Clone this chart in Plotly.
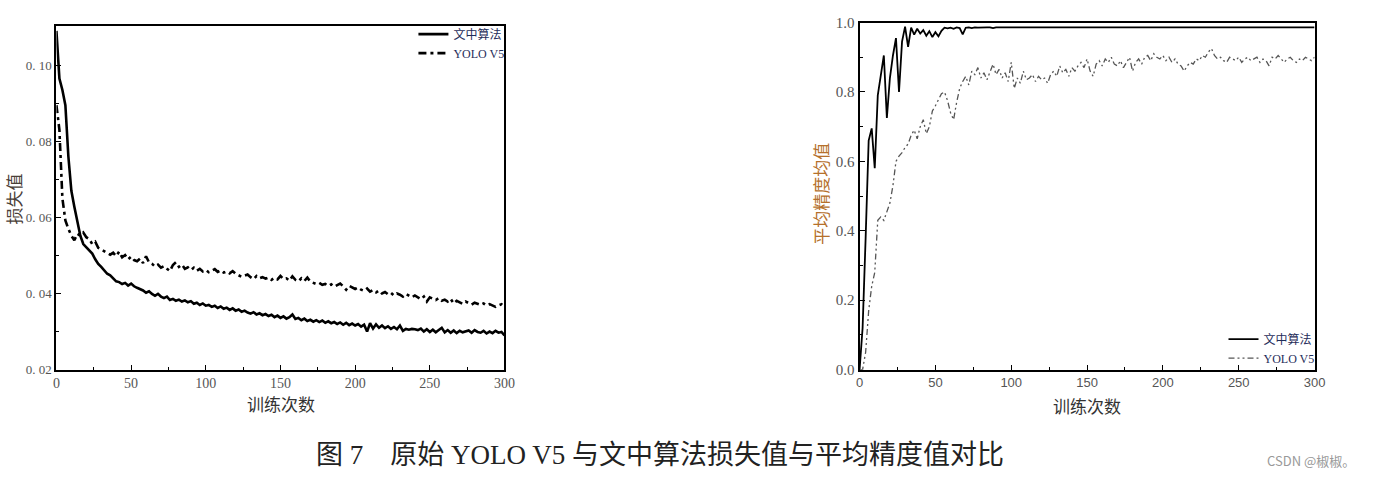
import plotly.graph_objects as go

# ---------------- data ----------------
epochs = list(range(0, 301, 2))

loss_ours = [
    0.1090, 0.0965, 0.0935, 0.0895, 0.0760, 0.0670, 0.0628, 0.0592, 0.0552, 0.0530,
    0.0522, 0.0515, 0.0505, 0.0490, 0.0478, 0.0470, 0.0462, 0.0452, 0.0448, 0.0440,
    0.0432, 0.0430, 0.0425, 0.0428, 0.0421, 0.0426, 0.0419, 0.0415, 0.0412, 0.0408,
    0.0402, 0.0406, 0.0399, 0.0394, 0.0399, 0.0392, 0.0388, 0.0392, 0.0383, 0.0386,
    0.0381, 0.0384, 0.0379, 0.0382, 0.0377, 0.0380, 0.0373, 0.0376, 0.0370, 0.0374,
    0.0368, 0.0370, 0.0365, 0.0368, 0.0362, 0.0366, 0.0360, 0.0363, 0.0357, 0.0361,
    0.0355, 0.0358, 0.0352, 0.0355, 0.0350, 0.0347, 0.0351, 0.0345, 0.0348, 0.0343,
    0.0346, 0.0341, 0.0344, 0.0338, 0.0342, 0.0336, 0.0340, 0.0334, 0.0338, 0.0345,
    0.0333, 0.0336, 0.0330, 0.0334, 0.0328, 0.0331, 0.0326, 0.0330, 0.0325, 0.0329,
    0.0323, 0.0327, 0.0322, 0.0325, 0.0320, 0.0324, 0.0318, 0.0323, 0.0317, 0.0321,
    0.0316, 0.0320, 0.0313, 0.0318, 0.0300, 0.0322, 0.0308, 0.0319, 0.0310, 0.0316,
    0.0309, 0.0314, 0.0307, 0.0312, 0.0306, 0.0316, 0.0302, 0.0307, 0.0305, 0.0307,
    0.0306, 0.0304, 0.0308, 0.0300, 0.0306, 0.0299, 0.0305, 0.0298, 0.0304, 0.0310,
    0.0298, 0.0304, 0.0297, 0.0303, 0.0296, 0.0302, 0.0298, 0.0301, 0.0303, 0.0297,
    0.0304, 0.0299, 0.0297, 0.0302, 0.0295, 0.0300, 0.0296, 0.0302, 0.0297, 0.0299,
    0.0290,
]

loss_yolo = [
    0.0895, 0.0830, 0.0650, 0.0592, 0.0570, 0.0552, 0.0540, 0.0557, 0.0552, 0.0560,
    0.0548, 0.0543, 0.0530, 0.0536, 0.0520, 0.0515, 0.0512, 0.0505, 0.0502, 0.0507,
    0.0498, 0.0510, 0.0495, 0.0501, 0.0490, 0.0497, 0.0488, 0.0485, 0.0492, 0.0480,
    0.0498, 0.0482, 0.0478, 0.0471, 0.0476, 0.0468, 0.0472, 0.0465, 0.0459, 0.0475,
    0.0482, 0.0470, 0.0476, 0.0465, 0.0469, 0.0462, 0.0468, 0.0460, 0.0465, 0.0458,
    0.0462, 0.0456, 0.0460, 0.0464, 0.0457, 0.0461, 0.0455, 0.0458, 0.0453, 0.0459,
    0.0452, 0.0448, 0.0444, 0.0447, 0.0450, 0.0443, 0.0438, 0.0446, 0.0440, 0.0443,
    0.0439, 0.0442, 0.0436, 0.0441, 0.0437, 0.0446, 0.0438, 0.0440, 0.0434, 0.0445,
    0.0436, 0.0432, 0.0440, 0.0433, 0.0442, 0.0431, 0.0427, 0.0425, 0.0428, 0.0423,
    0.0425, 0.0420, 0.0424, 0.0418, 0.0422, 0.0426, 0.0419, 0.0410, 0.0420, 0.0415,
    0.0412, 0.0416, 0.0410, 0.0407, 0.0413, 0.0405, 0.0409, 0.0403, 0.0408, 0.0400,
    0.0404, 0.0398, 0.0402, 0.0395, 0.0400, 0.0397, 0.0392, 0.0399, 0.0394, 0.0390,
    0.0395, 0.0389, 0.0385, 0.0392, 0.0379, 0.0390, 0.0386, 0.0383, 0.0388, 0.0381,
    0.0384, 0.0379, 0.0386, 0.0374, 0.0381, 0.0378, 0.0373, 0.0379, 0.0375, 0.0371,
    0.0376, 0.0372, 0.0370, 0.0374, 0.0369, 0.0372, 0.0368, 0.0365, 0.0369, 0.0372,
    0.0362,
]

map_ours = [
    0.000, 0.120, 0.380, 0.660, 0.695, 0.580, 0.790, 0.845, 0.905, 0.725,
    0.840, 0.905, 0.955, 0.800, 0.945, 0.988, 0.930, 0.985, 0.965, 0.982,
    0.968, 0.978, 0.962, 0.975, 0.958, 0.972, 0.960, 0.976, 0.985, 0.983,
    0.985, 0.982, 0.986, 0.984, 0.966, 0.985, 0.986, 0.984, 0.986, 0.985,
    0.986, 0.985, 0.986, 0.986, 0.984, 0.986, 0.986, 0.985, 0.986, 0.986,
    0.986, 0.986, 0.985, 0.986, 0.986, 0.986, 0.985, 0.986, 0.986, 0.986,
    0.986, 0.985, 0.986, 0.986, 0.986, 0.986, 0.985, 0.986, 0.986, 0.986,
    0.986, 0.986, 0.986, 0.985, 0.986, 0.986, 0.986, 0.986, 0.985, 0.986,
    0.986, 0.986, 0.986, 0.986, 0.985, 0.986, 0.986, 0.986, 0.986, 0.986,
    0.986, 0.985, 0.986, 0.986, 0.986, 0.986, 0.986, 0.985, 0.986, 0.986,
    0.986, 0.986, 0.986, 0.986, 0.986, 0.985, 0.986, 0.986, 0.986, 0.986,
    0.986, 0.986, 0.985, 0.986, 0.986, 0.986, 0.986, 0.986, 0.986, 0.986,
    0.986, 0.986, 0.986, 0.986, 0.986, 0.986, 0.986, 0.986, 0.986, 0.986,
    0.986, 0.986, 0.986, 0.986, 0.986, 0.986, 0.986, 0.986, 0.986, 0.986,
    0.986, 0.986, 0.986, 0.986, 0.986, 0.986, 0.986, 0.986, 0.986, 0.986,
    0.986,
]

map_yolo = [
    0.000, 0.000, 0.050, 0.170, 0.240, 0.280, 0.430, 0.440, 0.430, 0.455,
    0.480, 0.530, 0.600, 0.615, 0.625, 0.640, 0.650, 0.675, 0.690, 0.665,
    0.700, 0.720, 0.680, 0.700, 0.745, 0.760, 0.780, 0.795, 0.800, 0.775,
    0.740, 0.720, 0.770, 0.810, 0.830, 0.845, 0.820, 0.860, 0.850, 0.870,
    0.840, 0.855, 0.835, 0.860, 0.880, 0.850, 0.865, 0.840, 0.855, 0.830,
    0.885, 0.810, 0.840, 0.825, 0.860, 0.835, 0.840, 0.850, 0.830, 0.845,
    0.835, 0.840, 0.825, 0.850, 0.860, 0.845, 0.875, 0.855, 0.865, 0.845,
    0.870, 0.860, 0.875, 0.885, 0.870, 0.895, 0.860, 0.845, 0.880, 0.890,
    0.875, 0.895, 0.885, 0.900, 0.880, 0.875, 0.890, 0.870, 0.885, 0.900,
    0.860, 0.885, 0.895, 0.880, 0.900, 0.905, 0.890, 0.910, 0.900, 0.895,
    0.905, 0.890, 0.900, 0.885, 0.895, 0.880, 0.875, 0.860, 0.875, 0.885,
    0.880, 0.895, 0.890, 0.905, 0.900, 0.915, 0.925, 0.905, 0.895, 0.900,
    0.890, 0.885, 0.900, 0.895, 0.890, 0.900, 0.885, 0.895, 0.900, 0.890,
    0.895, 0.900, 0.885, 0.895, 0.890, 0.875, 0.900, 0.895, 0.905, 0.895,
    0.885, 0.895, 0.900, 0.890, 0.885, 0.895, 0.890, 0.900, 0.895, 0.890,
    0.900,
]

series_names = ["文中算法", "YOLO V5"]
loss_ticks = [0.02, 0.04, 0.06, 0.08, 0.10]
loss_ticktext = ["0. 02", "0. 04", "0. 06", "0. 08", "0. 10"]
map_ticks = [0.0, 0.2, 0.4, 0.6, 0.8, 1.0]
map_ticktext = ["0.0", "0.2", "0.4", "0.6", "0.8", "1.0"]
x_title = "训练次数"
loss_title = "损失值"
map_title = "平均精度均值"
caption = "图 7　原始 YOLO V5 与文中算法损失值与平均精度值对比"
watermark = "CSDN @椒椒。"

# ---------------- figure ----------------
W, H = 1376, 484
SERIF = "Liberation Serif, Noto Sans CJK SC"
CJK = "Noto Sans CJK SC"

fig = go.Figure()
fig.add_trace(go.Scatter(x=epochs, y=loss_ours, name=series_names[0], mode="lines",
                         line=dict(color="black", width=2.6), xaxis="x", yaxis="y",
                         legend="legend"))
fig.add_trace(go.Scatter(x=epochs, y=loss_yolo, name=series_names[1], mode="lines",
                         line=dict(color="black", width=2.6, dash="8px,4px,3px,4px"),
                         xaxis="x", yaxis="y", legend="legend"))
fig.add_trace(go.Scatter(x=epochs, y=map_ours, name=series_names[0], mode="lines",
                         line=dict(color="black", width=1.8), xaxis="x2", yaxis="y2",
                         legend="legend2"))
fig.add_trace(go.Scatter(x=epochs, y=map_yolo, name=series_names[1], mode="lines",
                         line=dict(color="#555555", width=1.3, dash="6px,3px,2px,3px,2px,3px"),
                         xaxis="x2", yaxis="y2", legend="legend2"))


def px_x(p):
    return p / W


def px_y(p):
    return 1 - p / H


axis_common = dict(showline=True, linecolor="black", linewidth=2, mirror=True,
                   ticks="inside", ticklen=5, tickcolor="black", tickwidth=1,
                   showgrid=False, zeroline=False)

fig.update_layout(
    width=W, height=H,
    margin=dict(l=0, r=0, t=0, b=0),
    paper_bgcolor="white", plot_bgcolor="white",
    showlegend=True,
    xaxis=dict(domain=[px_x(53), px_x(506)], range=[0, 300], anchor="y",
               tickmode="linear", tick0=0, dtick=50,
               minor=dict(ticks="inside", dtick=25, ticklen=3, tickcolor="black"),
               tickfont=dict(family=SERIF, size=14, color="#555555"), **axis_common),
    yaxis=dict(domain=[px_y(374), px_y(19)], range=[0.02, 0.1102], anchor="x",
               tickmode="array", tickvals=loss_ticks, ticktext=loss_ticktext,
               minor=dict(ticks="inside", tickmode="linear", tick0=0.02, dtick=0.01,
                          ticklen=3, tickcolor="black"),
               tickfont=dict(family=SERIF, size=13, color="#555555"), **axis_common),
    xaxis2=dict(domain=[px_x(865), px_x(1325)], range=[0, 300], anchor="y2",
                tickmode="linear", tick0=0, dtick=50,
                minor=dict(ticks="inside", dtick=25, ticklen=3, tickcolor="black"),
                tickfont=dict(family="Liberation Sans", size=13, color="#555555"), **axis_common),
    yaxis2=dict(domain=[px_y(374), px_y(15)], range=[0, 1.0], anchor="x2",
                tickmode="array", tickvals=map_ticks, ticktext=map_ticktext,
                minor=dict(ticks="inside", tickmode="linear", tick0=0, dtick=0.1,
                           ticklen=3, tickcolor="black"),
                tickfont=dict(family=SERIF, size=15, color="#555555"), **axis_common),
    legend=dict(x=px_x(511), xanchor="right", y=px_y(12), yanchor="top",
                bgcolor="rgba(0,0,0,0)", tracegroupgap=0, itemwidth=30,
                font=dict(family=SERIF, size=12, color="#1f2d5a")),
    legend2=dict(x=px_x(1330), xanchor="right", y=px_y(377), yanchor="bottom",
                 bgcolor="rgba(0,0,0,0)", tracegroupgap=0, itemwidth=30,
                 font=dict(family=SERIF, size=12, color="#1f2d5a")),
)

ann = []
ann.append(dict(text=x_title, x=px_x(280), y=px_y(409), xref="paper", yref="paper",
                showarrow=False, xanchor="center", yanchor="middle",
                font=dict(family=CJK, size=17, color="#333333")))
ann.append(dict(text=x_title, x=px_x(1095), y=px_y(411), xref="paper", yref="paper",
                showarrow=False, xanchor="center", yanchor="middle",
                font=dict(family=CJK, size=17, color="#333333")))
ann.append(dict(text=loss_title, x=px_x(10), y=px_y(197), xref="paper", yref="paper",
                showarrow=False, xanchor="center", yanchor="middle", textangle=-90,
                font=dict(family=CJK, size=17, color="#4a4038")))
ann.append(dict(text=map_title, x=px_x(826), y=px_y(192), xref="paper", yref="paper",
                showarrow=False, xanchor="center", yanchor="middle", textangle=-90,
                font=dict(family=CJK, size=17, color="#b5702c")))
ann.append(dict(text=caption, x=px_x(663), y=px_y(462), xref="paper", yref="paper",
                showarrow=False, xanchor="center", yanchor="middle",
                font=dict(family=SERIF, size=27, color="#222222")))
ann.append(dict(text=watermark, x=px_x(1368), y=px_y(468), xref="paper", yref="paper",
                showarrow=False, xanchor="right", yanchor="middle",
                font=dict(family=CJK, size=13, color="#999999")))
fig.update_layout(annotations=ann)

fig.write_html("out.html")
